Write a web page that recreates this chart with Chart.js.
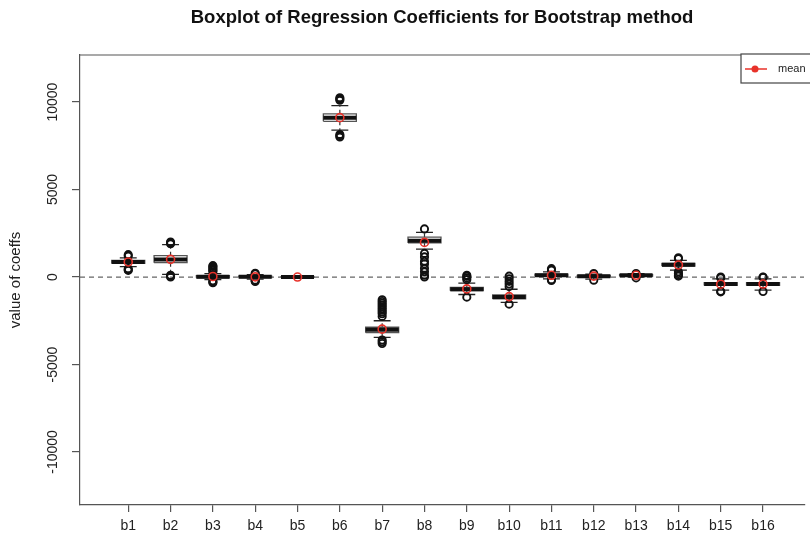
<!DOCTYPE html>
<html><head><meta charset="utf-8">
<script src="https://cdn.jsdelivr.net/npm/chart.js@4.4.1/dist/chart.umd.min.js"></script>
<style>html,body{margin:0;padding:0;background:#fff}</style>
</head><body>
<canvas id="c" width="810" height="539"></canvas>
<script>
const labels = ['b1','b2','b3','b4','b5','b6','b7','b8','b9','b10','b11','b12','b13','b14','b15','b16'];
const whiskerLow  = [600, 150, -150, -120, -40, 8400, -3450, 1600, -1000, -1450, -100, -120, 0, 400, -750, -750];
const q1          = [780, 820, -40, -30, -10, 8900, -3180, 1950, -780, -1250, 40, 0, 60, 630, -480, -480];
const median      = [860, 1000, 20, 10, 0, 9100, -3020, 2070, -700, -1140, 100, 50, 100, 700, -400, -400];
const q3          = [950, 1220, 80, 50, 10, 9330, -2870, 2280, -600, -1020, 170, 100, 140, 780, -320, -320];
const whiskerHigh = [1100, 1850, 200, 130, 40, 9800, -2500, 2550, -350, -700, 300, 160, 200, 950, -100, -100];
const means       = [860, 1010, 30, 10, 0, 9110, -2980, 1980, -680, -1120, 100, 50, 100, 690, -410, -400];
const outliers = [
  [1200, 1280, 480, 420, 380],
  [1900, 1950, 2000, 100, 50, 0],
  [300, 380, 450, 520, 600, 650, -220, -280, -330],
  [180, 220, -180, -220, -260],
  [],
  [10100, 10180, 10250, 8150, 8080, 8000],
  [-2100, -2250, -2000, -1900, -1800, -1700, -1600, -1500, -1400, -1300, -3600, -3700, -3800],
  [2750, 1350, 1150, 900, 750, 500, 300, 100, 0],
  [-150, -50, 50, 100, -1150],
  [-550, -400, -250, -100, 50, -1550],
  [400, 480, -150, -200],
  [-180, 200],
  [-50, 200],
  [1050, 1100, 300, 200, 100, 50],
  [0, -50, -820, -850],
  [0, -20, -830]
];
const yTicks = [-10000, -5000, 0, 5000, 10000];
const referenceLine = 0;

const BOX_HALF = 0.39, CAP_HALF = 0.2;
const X_MIN = -0.14, X_MAX = 16.97, Y_MIN = -13030, Y_MAX = 12690;
const FONT = 'Liberation Sans, Arial, Helvetica, sans-serif';

const boxData = [], whiskerData = [], capData = [], medianData = [], outlierData = [], meanData = [];
labels.forEach((l, i) => {
  const x = i + 1;
  boxData.push({x:x-BOX_HALF,y:q1[i]},{x:x+BOX_HALF,y:q1[i]},{x:x+BOX_HALF,y:q3[i]},{x:x-BOX_HALF,y:q3[i]},{x:x-BOX_HALF,y:q1[i]},{x:x,y:null});
  whiskerData.push({x:x,y:q3[i]},{x:x,y:whiskerHigh[i]},{x:x,y:null},{x:x,y:q1[i]},{x:x,y:whiskerLow[i]},{x:x,y:null});
  capData.push({x:x-CAP_HALF,y:whiskerHigh[i]},{x:x+CAP_HALF,y:whiskerHigh[i]},{x:x,y:null},{x:x-CAP_HALF,y:whiskerLow[i]},{x:x+CAP_HALF,y:whiskerLow[i]},{x:x,y:null});
  medianData.push({x:x-BOX_HALF,y:median[i]},{x:x+BOX_HALF,y:median[i]},{x:x,y:null});
  outliers[i].forEach(v => outlierData.push({x:x,y:v}));
  meanData.push({x:x,y:means[i]});
});

const framePlugin = {
  id: 'frame',
  afterDatasetsDraw(chart) {
    const {ctx, chartArea} = chart;
    ctx.save();
    ctx.strokeStyle = '#555';
    ctx.lineWidth = 1.2;
    ctx.beginPath();
    ctx.moveTo(chartArea.left, chartArea.top);
    ctx.lineTo(chartArea.right, chartArea.top);
    ctx.stroke();
    ctx.restore();
  },
  afterDraw(chart) {
    const {ctx, chartArea} = chart;
    ctx.save();
    const top = chartArea.top - 1, left = 741;
    ctx.fillStyle = '#fff';
    ctx.fillRect(left, top, 80, 29);
    ctx.strokeStyle = '#444';
    ctx.lineWidth = 1.2;
    ctx.strokeRect(left, top, 80, 29);
    ctx.strokeStyle = '#e8322a';
    ctx.lineWidth = 1.5;
    ctx.beginPath();
    ctx.moveTo(left + 4, top + 15); ctx.lineTo(left + 26, top + 15); ctx.stroke();
    ctx.fillStyle = '#e8322a';
    ctx.beginPath(); ctx.arc(left + 14, top + 15, 3.5, 0, Math.PI * 2); ctx.fill();
    ctx.fillStyle = '#222';
    ctx.font = '11px ' + FONT;
    ctx.textBaseline = 'middle';
    ctx.fillText('mean', left + 37, top + 15);
    ctx.restore();
  }
};

new Chart(document.getElementById('c'), {
  type: 'scatter',
  data: {
    datasets: [
      {label:'mean', data: meanData, showLine:false, pointRadius:4, pointBorderColor:'#e8322a', pointBackgroundColor:'rgba(0,0,0,0)', pointBorderWidth:1.6, order:0},
      {label:'outliers', data: outlierData, showLine:false, pointRadius:3.6, pointBorderColor:'#111', pointBackgroundColor:'rgba(0,0,0,0)', pointBorderWidth:1.9, order:1},
      {label:'median', data: medianData, showLine:true, pointRadius:0, borderColor:'#111', borderWidth:4, borderCapStyle:'butt', spanGaps:false, order:2},
      {label:'box', data: boxData, showLine:true, pointRadius:0, borderColor:'#555', borderWidth:1.3, spanGaps:false, order:3},
      {label:'caps', data: capData, showLine:true, pointRadius:0, borderColor:'#222', borderWidth:1.3, spanGaps:false, order:4},
      {label:'whiskers', data: whiskerData, showLine:true, pointRadius:0, borderColor:'#333', borderWidth:1.2, borderDash:[4,3], spanGaps:false, order:5},
      {label:'zero', data: [{x:X_MIN,y:referenceLine},{x:X_MAX,y:referenceLine}], showLine:true, pointRadius:0, borderColor:'#666', borderWidth:1.2, borderDash:[5,4], order:6}
    ]
  },
  options: {
    responsive: false,
    animation: false,
    devicePixelRatio: 1,
    layout: {padding: 0},
    plugins: {
      legend: {display:false},
      tooltip: {enabled:false},
      title: {display:true, fullSize:false, text:'Boxplot of Regression Coefficients for Bootstrap method', color:'#111',
        font:{family:FONT, size:18.5, weight:'bold'}, padding:{top:7, bottom:25.8}}
    },
    scales: {
      x: {
        type:'linear', min:X_MIN, max:X_MAX,
        afterBuildTicks: s => { s.ticks = labels.map((_, i) => ({value:i+1})); },
        afterFit: s => { s.height = 34; },
        ticks: {callback: v => labels[v-1], autoSkip:false, maxRotation:0, color:'#222', font:{family:FONT, size:14}, padding:6},
        grid: {drawOnChartArea:false, tickLength:7, color:'#555', lineWidth:1.2},
        border: {display:true, color:'#555', width:1.2}
      },
      y: {
        min:Y_MIN, max:Y_MAX,
        afterBuildTicks: s => { s.ticks = yTicks.map(v => ({value:v})); },
        afterFit: s => { s.width = 80; },
        ticks: {callback: v => String(v), minRotation:90, maxRotation:90, crossAlign:'center', padding:-3, color:'#222', font:{family:FONT, size:14}},
        grid: {drawOnChartArea:false, tickLength:8, color:'#555', lineWidth:1.2},
        border: {display:true, color:'#555', width:1.2},
        title: {display:true, text:'value of coeffs', color:'#222', font:{family:FONT, size:15}, padding:{top:7, bottom:0}}
      }
    }
  },
  plugins: [framePlugin]
});
</script>
</body></html>
